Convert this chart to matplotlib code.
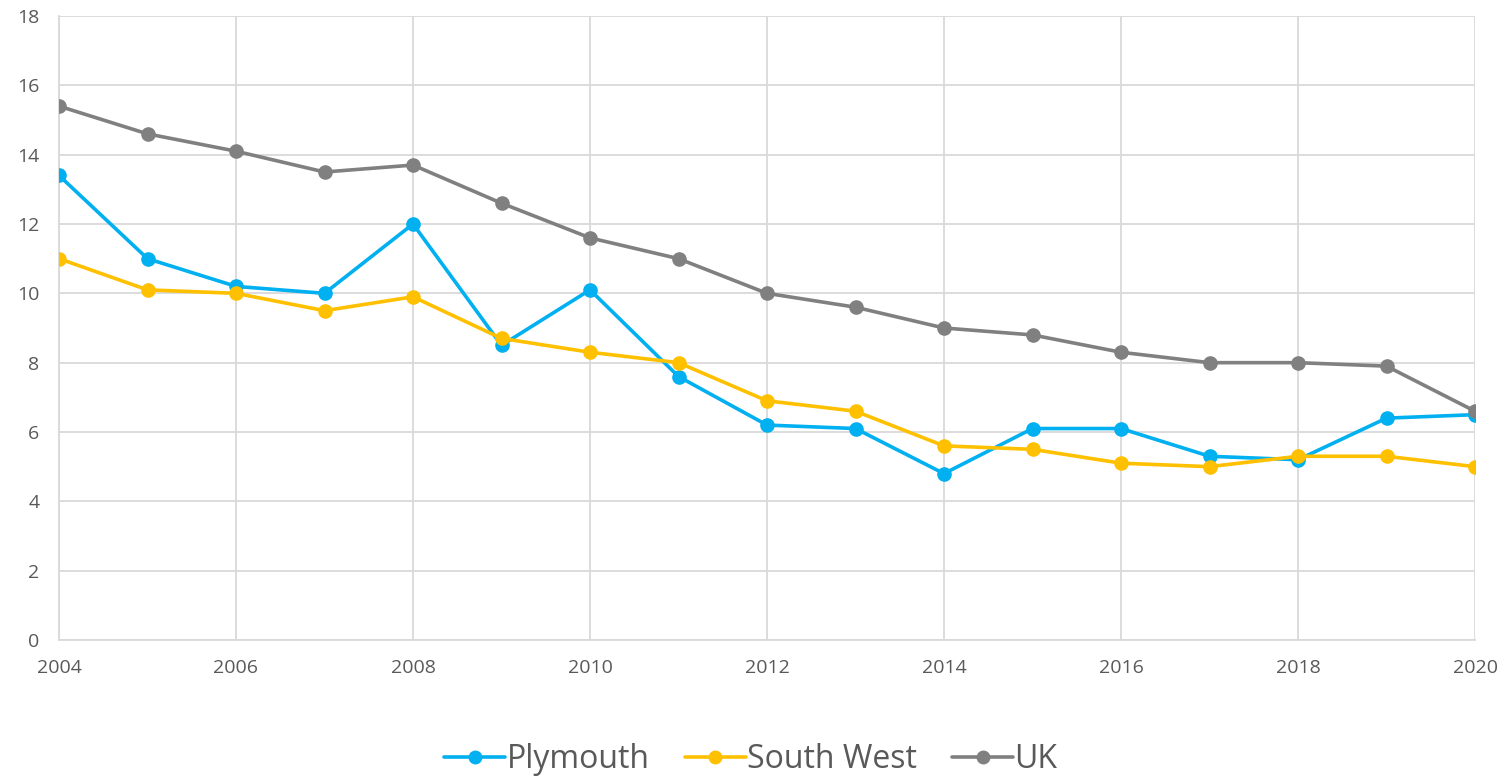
import numpy as np
import matplotlib.pyplot as plt

plt.rcParams['font.family'] = ['Open Sans', 'DejaVu Sans']

years = list(range(2004, 2021))
plymouth = [13.4, 11.0, 10.2, 10.0, 12.0, 8.5, 10.1, 7.6, 6.2, 6.1, 4.8, 6.1, 6.1, 5.3, 5.2, 6.4, 6.5]
south_west = [11.0, 10.1, 10.0, 9.5, 9.9, 8.7, 8.3, 8.0, 6.9, 6.6, 5.6, 5.5, 5.1, 5.0, 5.3, 5.3, 5.0]
uk = [15.4, 14.6, 14.1, 13.5, 13.7, 12.6, 11.6, 11.0, 10.0, 9.6, 9.0, 8.8, 8.3, 8.0, 8.0, 7.9, 6.6]

series = [('Plymouth', plymouth, '#00B0F0'),
          ('South West', south_west, '#FFC000'),
          ('UK', uk, '#808080')]

txt = '#595959'
grid = '#D9D9D9'

fig = plt.figure(figsize=(15.11, 7.77), dpi=100)
ax = fig.add_axes([59/1511, 137/777, (1475-59)/1511, (640-16)/777])

for name, vals, col in series:
    ax.plot(years, vals, color=col, lw=2.6, marker='o', ms=9.5, label=name,
            solid_capstyle='round', zorder=3)

ax.set_xlim(2004, 2020)
ax.set_ylim(0, 18)
ax.set_xticks(range(2004, 2021, 2))
ax.set_yticks(range(0, 19, 2))
ax.grid(True, color=grid, lw=1.3, zorder=0)
for s in ['top', 'right']:
    ax.spines[s].set_visible(False)
for s in ['left', 'bottom']:
    ax.spines[s].set_color(grid)
    ax.spines[s].set_linewidth(1.3)
ax.tick_params(length=0, labelsize=14, colors=txt)
ax.tick_params(axis='x', pad=14)
ax.tick_params(axis='y', pad=14)

leg = fig.legend(loc='center', bbox_to_anchor=(0.497, 0.022), ncol=3, frameon=False,
                 fontsize=23, handlelength=1.9, handletextpad=0.05, columnspacing=1.1,
                 labelcolor=txt)
for h in leg.legend_handles:
    h.set_markersize(9)

plt.savefig('out.png', dpi=100)
